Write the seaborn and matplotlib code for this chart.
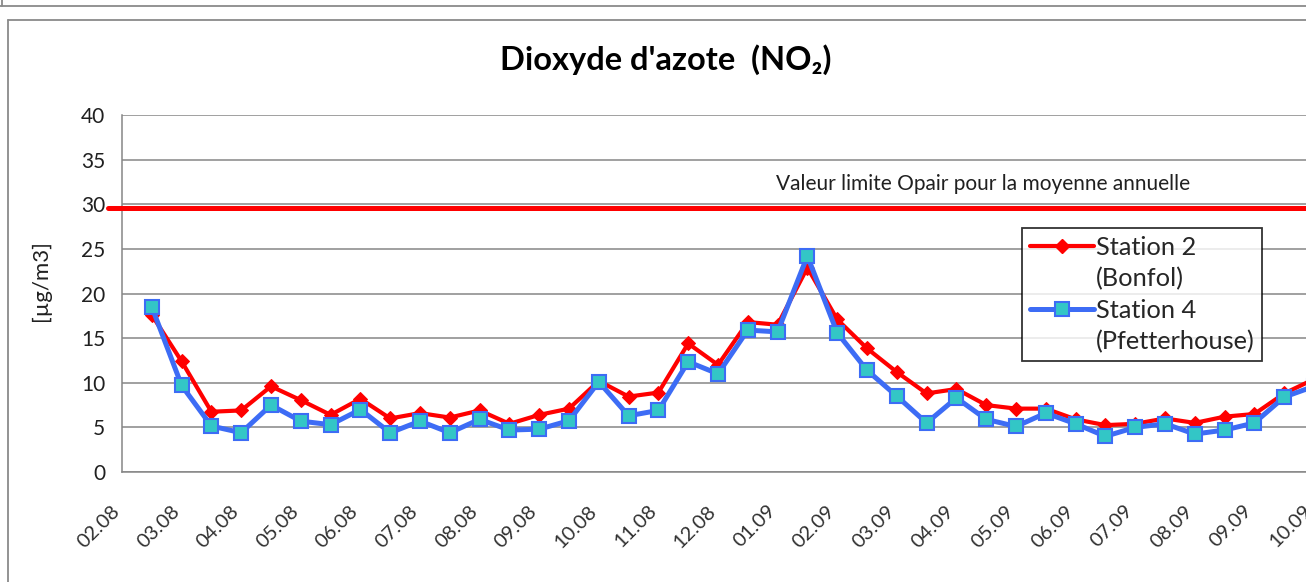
import numpy as np
import seaborn as sns
import matplotlib
import matplotlib.pyplot as plt
from matplotlib.lines import Line2D
from matplotlib.transforms import ScaledTranslation

matplotlib.use('Agg')

# month labels (MM.YY), one tick per month
months = ["02.08", "03.08", "04.08", "05.08", "06.08", "07.08", "08.08",
          "09.08", "10.08", "11.08", "12.08", "01.09", "02.09", "03.09",
          "04.09", "05.09", "06.09", "07.09", "08.09", "09.09", "10.09"]

# two-week means [ug/m3]
station2 = [17.6, 12.4, 6.75, 6.9, 9.6, 8.05, 6.4, 8.2, 6.0, 6.6,
            6.1, 6.9, 5.4, 6.4, 7.1, 10.2, 8.45, 8.9, 14.4, 12.0,
            16.8, 16.5, 22.9, 17.1, 13.85, 11.2, 8.8, 9.3, 7.5, 7.1,
            7.1, 5.9, 5.25, 5.4, 6.0, 5.5, 6.2, 6.5, 8.8, 10.4]
station4 = [18.5, 9.7, 5.15, 4.4, 7.5, 5.7, 5.3, 7.0, 4.4, 5.7,
            4.4, 5.9, 4.7, 4.8, 5.75, 10.1, 6.3, 6.9, 12.35, 11.0,
            15.9, 15.7, 24.2, 15.6, 11.4, 8.5, 5.5, 8.3, 5.9, 5.1,
            6.6, 5.4, 4.0, 5.0, 5.4, 4.25, 4.7, 5.5, 8.4, 9.6]
limit_value = 29.6  # OPair annual limit line as drawn
limit_text = "Valeur limite Opair pour la moyenne annuelle"

sns.set_style('white')
plt.rcParams['font.family'] = ['Lato', 'DejaVu Sans']

RED = '#ff0000'
BLUE = '#3d6cf5'
TEAL = '#33c6c6'
GRID = '#868686'

fig = plt.figure(figsize=(13.06, 5.82), dpi=100)
ax = fig.add_axes([122 / 1306, 110 / 582, 1192 / 1306, 357 / 582])

# two samples per month -> half-month positions
x_pos = np.arange(1, len(station2) + 1) * 0.5

sns.lineplot(x=x_pos, y=station2, ax=ax, color=RED, lw=3.0,
             marker='D', markersize=7.5, markeredgecolor=RED, zorder=3)
sns.lineplot(x=x_pos, y=station4, ax=ax, color=BLUE, lw=3.6,
             marker='s', markersize=10, markerfacecolor=TEAL,
             markeredgecolor=BLUE, markeredgewidth=1.5, zorder=4)

# limit line, starts a bit left of the axis like in the original
ax.plot([-0.24, len(months) - 1], [limit_value, limit_value],
        color=RED, lw=3.6, clip_on=False, zorder=5)
ax.text(14.45, 32.3, limit_text, ha='center', va='center',
        fontsize=15, color='#202020')

ax.set_xlim(0, len(months) - 1)
ax.set_ylim(0, 40)
ax.set_yticks(np.arange(0, 41, 5))
ax.set_xticks(np.arange(len(months)))
ax.set_xticklabels(months, rotation=45, ha='right', va='center',
                   rotation_mode='anchor', fontsize=14.5, color='#303030')
ax.tick_params(axis='x', length=5, width=1, color=GRID, pad=21)
ax.tick_params(axis='y', length=5, width=1, color=GRID, pad=7,
               labelsize=15, labelcolor='#202020')
# shift month labels a little to the left (after tick_params, which resets transforms)
offset = ScaledTranslation(-5 / 100, 0, fig.dpi_scale_trans)
for lbl in ax.xaxis.get_majorticklabels():
    lbl.set_transform(lbl.get_transform() + offset)

ax.grid(axis='y', color=GRID, lw=1.1)
ax.set_axisbelow(True)
for side in ['top', 'right']:
    ax.spines[side].set_visible(False)
for side in ['left', 'bottom']:
    ax.spines[side].set_color(GRID)
    ax.spines[side].set_linewidth(1.1)

ax.set_ylabel("[µg/m3]", fontsize=16, color='#202020')
ax.yaxis.set_label_coords(-0.0596, 0.535)

# legend: handle sits on the first line of each two-line label
blank = Line2D([], [], linestyle='none')
handles = [Line2D([], [], color=RED, lw=3.0, marker='D', markersize=7.5),
           blank,
           Line2D([], [], color=BLUE, lw=3.6, marker='s', markersize=10,
                  markerfacecolor=TEAL, markeredgecolor=BLUE,
                  markeredgewidth=1.5),
           blank]
labels = ["Station 2", "(Bonfol)", "Station 4", "(Pfetterhouse)"]
leg = ax.legend(handles, labels, loc='upper left',
                bbox_to_anchor=(0.755, 0.683), borderaxespad=0,
                fontsize=18.3, frameon=True, fancybox=False,
                handlelength=2.55, handletextpad=0.05, labelspacing=0.33,
                borderpad=0.3)
leg.get_frame().set_edgecolor('black')
leg.get_frame().set_linewidth(1.3)
leg.set_zorder(10)

fig.text(666 / 1306, 1 - 60 / 582, "Dioxyde d'azote  (NO\u2082)",
         ha='center', va='center', fontsize=23.5, fontweight='bold',
         color='black')

# frame lines of the chart object
fig.add_artist(Line2D([8 / 1306, 8 / 1306], [0, 1 - 20 / 582],
                      color='#8a8a8a', lw=1.3))
fig.add_artist(Line2D([8 / 1306, 1], [1 - 20 / 582, 1 - 20 / 582],
                      color='#8a8a8a', lw=1.3))
fig.add_artist(Line2D([0, 1], [1 - 6 / 582, 1 - 6 / 582],
                      color='#8a8a8a', lw=1.3))
fig.add_artist(Line2D([2 / 1306, 2 / 1306], [1 - 6 / 582, 1],
                      color='#8a8a8a', lw=1.3))

fig.savefig('out.png', dpi=100)
plt.close(fig)
